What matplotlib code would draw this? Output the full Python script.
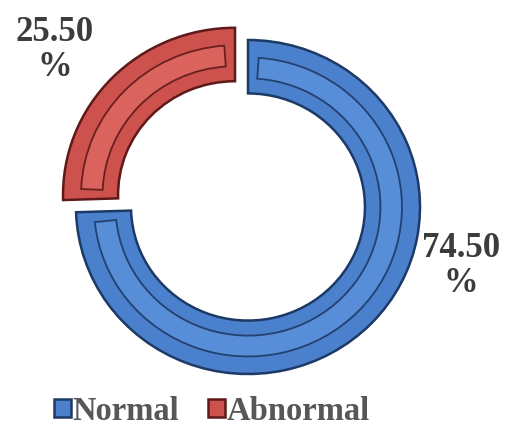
import numpy as np
import matplotlib
matplotlib.use("Agg")
import matplotlib.pyplot as plt
from matplotlib.patches import Wedge

# data
labels = ["Normal", "Abnormal"]
values = [74.50, 25.50]
pct_text = ["74.50\n%", "25.50\n%"]
colors = ["#4a80cc", "#cd524e"]
edge_dark = ["#1d3a66", "#5e1a18"]
groove_fill = ["#5a8fda", "#dc6560"]

W, H = 509, 427
fig = plt.figure(figsize=(W / 100, H / 100), dpi=100)
ax = fig.add_axes([0, 0, 1, 1])

explode = [0.0, 0.105]

# main ring
wedges, _ = ax.pie(values, radius=1.0, startangle=90, counterclock=False,
                   colors=colors, explode=explode,
                   wedgeprops=dict(width=0.32, linewidth=1.8))
for w, ec in zip(wedges, edge_dark):
    w.set_edgecolor(ec)

# bevel groove, inset a little from the slice ends
for w, fc, ec in zip(wedges, groove_fill, edge_dark):
    d = 4.0
    gw = Wedge(w.center, w.r * 0.895, w.theta1 + d, w.theta2 - d,
               width=w.r * 0.125, facecolor=fc, edgecolor=ec,
               linewidth=1.3, alpha=0.9)
    ax.add_patch(gw)

# scale: x 172 px / unit, y 167 px / unit, centre at (248, 208) from top-left
sx, sy = 172.0, 167.0
cx, cy = 248, 208
ax.set_aspect("auto")
ax.set_xlim(-cx / sx, (W - cx) / sx)
ax.set_ylim(-(H - cy) / sy, cy / sy)
ax.axis("off")

# value labels
lbl_font = dict(family="Liberation Serif", fontweight="bold", fontsize=25,
                color="#3c3c3c", ha="center", va="center", linespacing=1.1)
ax.text((461 - cx) / sx, (cy - 266) / sy, pct_text[0], **lbl_font)
ax.text((55 - cx) / sx, (cy - 50) / sy, pct_text[1], **lbl_font)

leg = ax.legend(wedges, labels, loc="center", bbox_to_anchor=(212 / W, 1 - 412 / H),
                bbox_transform=fig.transFigure, ncol=2, frameon=False,
                handlelength=0.5, handleheight=0.5, handletextpad=0.05,
                columnspacing=0.9, borderpad=0,
                prop=dict(family="Liberation Serif", weight="bold", size=23.5))
for t in leg.get_texts():
    t.set_color("#575757")

fig.savefig("out.png", dpi=100)
